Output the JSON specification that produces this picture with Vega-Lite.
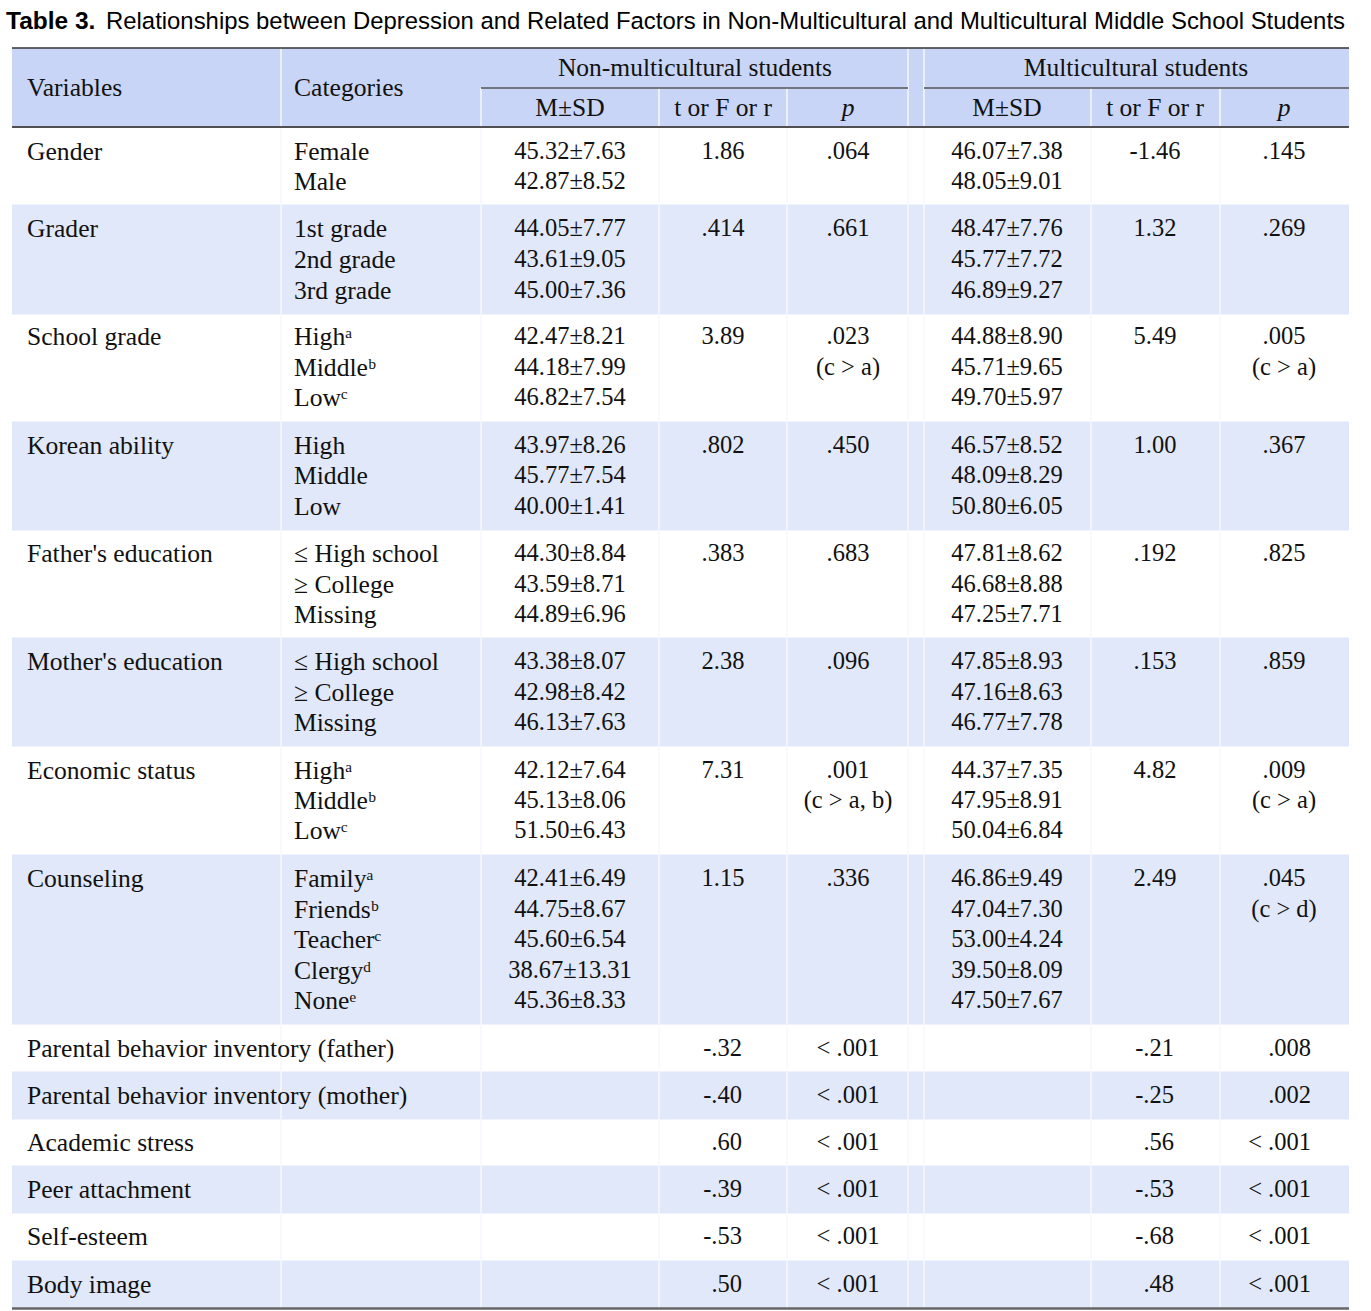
{
  "$schema": "https://vega.github.io/schema/vega-lite/v6.json",
  "width": 1371,
  "height": 1311,
  "padding": 0,
  "autosize": {"type": "none"},
  "background": "white",
  "config": {"view": {"stroke": null}, "axis": {"disable": true}},
  "data": {"values": [{}]},
  "datasets": {
    "groups": [
      {"g": 0, "first": 0, "last": 1}, {"g": 1, "first": 2, "last": 4}, {"g": 2, "first": 5, "last": 7},
      {"g": 3, "first": 8, "last": 10}, {"g": 4, "first": 11, "last": 13}, {"g": 5, "first": 14, "last": 16},
      {"g": 6, "first": 17, "last": 19}, {"g": 7, "first": 20, "last": 24}, {"g": 8, "first": 25, "last": 25},
      {"g": 9, "first": 26, "last": 26}, {"g": 10, "first": 27, "last": 27}, {"g": 11, "first": 28, "last": 28},
      {"g": 12, "first": 29, "last": 29}, {"g": 13, "first": 30, "last": 30}
    ],
    "cells": [
      {"line": -1.5, "col": 0, "text": "Variables"},
      {"line": -1.5, "col": 1, "text": "Categories"},
      {"line": -2, "col": 3, "text": "Non-multicultural students"},
      {"line": -2, "col": 6, "text": "Multicultural students"},
      {"line": -1, "col": 2, "text": "M±SD"}, {"line": -1, "col": 3, "text": "t or F or r"}, {"line": -1, "col": 4, "text": "p"},
      {"line": -1, "col": 5, "text": "M±SD"}, {"line": -1, "col": 6, "text": "t or F or r"}, {"line": -1, "col": 7, "text": "p"},

      {"line": 0, "col": 0, "text": "Gender"}, {"line": 0, "col": 1, "text": "Female"}, {"line": 0, "col": 2, "text": "45.32±7.63"},
      {"line": 0, "col": 3, "text": "1.86"}, {"line": 0, "col": 4, "text": ".064"}, {"line": 0, "col": 5, "text": "46.07±7.38"},
      {"line": 0, "col": 6, "text": "-1.46"}, {"line": 0, "col": 7, "text": ".145"},
      {"line": 1, "col": 1, "text": "Male"}, {"line": 1, "col": 2, "text": "42.87±8.52"}, {"line": 1, "col": 5, "text": "48.05±9.01"},

      {"line": 2, "col": 0, "text": "Grader"}, {"line": 2, "col": 1, "text": "1st grade"}, {"line": 2, "col": 2, "text": "44.05±7.77"},
      {"line": 2, "col": 3, "text": ".414"}, {"line": 2, "col": 4, "text": ".661"}, {"line": 2, "col": 5, "text": "48.47±7.76"},
      {"line": 2, "col": 6, "text": "1.32"}, {"line": 2, "col": 7, "text": ".269"},
      {"line": 3, "col": 1, "text": "2nd grade"}, {"line": 3, "col": 2, "text": "43.61±9.05"}, {"line": 3, "col": 5, "text": "45.77±7.72"},
      {"line": 4, "col": 1, "text": "3rd grade"}, {"line": 4, "col": 2, "text": "45.00±7.36"}, {"line": 4, "col": 5, "text": "46.89±9.27"},

      {"line": 5, "col": 0, "text": "School grade"}, {"line": 5, "col": 1, "text": "Highᵃ"}, {"line": 5, "col": 2, "text": "42.47±8.21"},
      {"line": 5, "col": 3, "text": "3.89"}, {"line": 5, "col": 4, "text": ".023"}, {"line": 5, "col": 5, "text": "44.88±8.90"},
      {"line": 5, "col": 6, "text": "5.49"}, {"line": 5, "col": 7, "text": ".005"},
      {"line": 6, "col": 1, "text": "Middleᵇ"}, {"line": 6, "col": 2, "text": "44.18±7.99"}, {"line": 6, "col": 4, "text": "(c > a)"},
      {"line": 6, "col": 5, "text": "45.71±9.65"}, {"line": 6, "col": 7, "text": "(c > a)"},
      {"line": 7, "col": 1, "text": "Lowᶜ"}, {"line": 7, "col": 2, "text": "46.82±7.54"}, {"line": 7, "col": 5, "text": "49.70±5.97"},

      {"line": 8, "col": 0, "text": "Korean ability"}, {"line": 8, "col": 1, "text": "High"}, {"line": 8, "col": 2, "text": "43.97±8.26"},
      {"line": 8, "col": 3, "text": ".802"}, {"line": 8, "col": 4, "text": ".450"}, {"line": 8, "col": 5, "text": "46.57±8.52"},
      {"line": 8, "col": 6, "text": "1.00"}, {"line": 8, "col": 7, "text": ".367"},
      {"line": 9, "col": 1, "text": "Middle"}, {"line": 9, "col": 2, "text": "45.77±7.54"}, {"line": 9, "col": 5, "text": "48.09±8.29"},
      {"line": 10, "col": 1, "text": "Low"}, {"line": 10, "col": 2, "text": "40.00±1.41"}, {"line": 10, "col": 5, "text": "50.80±6.05"},

      {"line": 11, "col": 0, "text": "Father's education"}, {"line": 11, "col": 1, "text": "≤ High school"}, {"line": 11, "col": 2, "text": "44.30±8.84"},
      {"line": 11, "col": 3, "text": ".383"}, {"line": 11, "col": 4, "text": ".683"}, {"line": 11, "col": 5, "text": "47.81±8.62"},
      {"line": 11, "col": 6, "text": ".192"}, {"line": 11, "col": 7, "text": ".825"},
      {"line": 12, "col": 1, "text": "≥ College"}, {"line": 12, "col": 2, "text": "43.59±8.71"}, {"line": 12, "col": 5, "text": "46.68±8.88"},
      {"line": 13, "col": 1, "text": "Missing"}, {"line": 13, "col": 2, "text": "44.89±6.96"}, {"line": 13, "col": 5, "text": "47.25±7.71"},

      {"line": 14, "col": 0, "text": "Mother's education"}, {"line": 14, "col": 1, "text": "≤ High school"}, {"line": 14, "col": 2, "text": "43.38±8.07"},
      {"line": 14, "col": 3, "text": "2.38"}, {"line": 14, "col": 4, "text": ".096"}, {"line": 14, "col": 5, "text": "47.85±8.93"},
      {"line": 14, "col": 6, "text": ".153"}, {"line": 14, "col": 7, "text": ".859"},
      {"line": 15, "col": 1, "text": "≥ College"}, {"line": 15, "col": 2, "text": "42.98±8.42"}, {"line": 15, "col": 5, "text": "47.16±8.63"},
      {"line": 16, "col": 1, "text": "Missing"}, {"line": 16, "col": 2, "text": "46.13±7.63"}, {"line": 16, "col": 5, "text": "46.77±7.78"},

      {"line": 17, "col": 0, "text": "Economic status"}, {"line": 17, "col": 1, "text": "Highᵃ"}, {"line": 17, "col": 2, "text": "42.12±7.64"},
      {"line": 17, "col": 3, "text": "7.31"}, {"line": 17, "col": 4, "text": ".001"}, {"line": 17, "col": 5, "text": "44.37±7.35"},
      {"line": 17, "col": 6, "text": "4.82"}, {"line": 17, "col": 7, "text": ".009"},
      {"line": 18, "col": 1, "text": "Middleᵇ"}, {"line": 18, "col": 2, "text": "45.13±8.06"}, {"line": 18, "col": 4, "text": "(c > a, b)"},
      {"line": 18, "col": 5, "text": "47.95±8.91"}, {"line": 18, "col": 7, "text": "(c > a)"},
      {"line": 19, "col": 1, "text": "Lowᶜ"}, {"line": 19, "col": 2, "text": "51.50±6.43"}, {"line": 19, "col": 5, "text": "50.04±6.84"},

      {"line": 20, "col": 0, "text": "Counseling"}, {"line": 20, "col": 1, "text": "Familyᵃ"}, {"line": 20, "col": 2, "text": "42.41±6.49"},
      {"line": 20, "col": 3, "text": "1.15"}, {"line": 20, "col": 4, "text": ".336"}, {"line": 20, "col": 5, "text": "46.86±9.49"},
      {"line": 20, "col": 6, "text": "2.49"}, {"line": 20, "col": 7, "text": ".045"},
      {"line": 21, "col": 1, "text": "Friendsᵇ"}, {"line": 21, "col": 2, "text": "44.75±8.67"}, {"line": 21, "col": 5, "text": "47.04±7.30"},
      {"line": 21, "col": 7, "text": "(c > d)"},
      {"line": 22, "col": 1, "text": "Teacherᶜ"}, {"line": 22, "col": 2, "text": "45.60±6.54"}, {"line": 22, "col": 5, "text": "53.00±4.24"},
      {"line": 23, "col": 1, "text": "Clergyᵈ"}, {"line": 23, "col": 2, "text": "38.67±13.31"}, {"line": 23, "col": 5, "text": "39.50±8.09"},
      {"line": 24, "col": 1, "text": "Noneᵉ"}, {"line": 24, "col": 2, "text": "45.36±8.33"}, {"line": 24, "col": 5, "text": "47.50±7.67"},

      {"line": 25, "col": 0, "text": "Parental behavior inventory (father)"}, {"line": 25, "col": 3, "text": "-.32"}, {"line": 25, "col": 4, "text": "< .001"},
      {"line": 25, "col": 6, "text": "-.21"}, {"line": 25, "col": 7, "text": ".008"},
      {"line": 26, "col": 0, "text": "Parental behavior inventory (mother)"}, {"line": 26, "col": 3, "text": "-.40"}, {"line": 26, "col": 4, "text": "< .001"},
      {"line": 26, "col": 6, "text": "-.25"}, {"line": 26, "col": 7, "text": ".002"},
      {"line": 27, "col": 0, "text": "Academic stress"}, {"line": 27, "col": 3, "text": ".60"}, {"line": 27, "col": 4, "text": "< .001"},
      {"line": 27, "col": 6, "text": ".56"}, {"line": 27, "col": 7, "text": "< .001"},
      {"line": 28, "col": 0, "text": "Peer attachment"}, {"line": 28, "col": 3, "text": "-.39"}, {"line": 28, "col": 4, "text": "< .001"},
      {"line": 28, "col": 6, "text": "-.53"}, {"line": 28, "col": 7, "text": "< .001"},
      {"line": 29, "col": 0, "text": "Self-esteem"}, {"line": 29, "col": 3, "text": "-.53"}, {"line": 29, "col": 4, "text": "< .001"},
      {"line": 29, "col": 6, "text": "-.68"}, {"line": 29, "col": 7, "text": "< .001"},
      {"line": 30, "col": 0, "text": "Body image"}, {"line": 30, "col": 3, "text": ".50"}, {"line": 30, "col": 4, "text": "< .001"},
      {"line": 30, "col": 6, "text": ".48"}, {"line": 30, "col": 7, "text": "< .001"}
    ]
  },
  "layer": [
    {
      "mark": {"type": "rect", "color": "#c9d5f6"},
      "encoding": {
        "x": {"datum": -0.0562, "type": "quantitative", "scale": {"type": "linear", "zero": false, "nice": false, "domain": [0,1,2,3,4,5,6,7], "range": [27,294,570,723,848,1007,1155,1284]}},
        "x2": {"datum": 7.5039},
        "y": {"datum": -2.435, "type": "quantitative", "scale": {"type": "linear", "zero": false, "nice": false, "domain": [-3,-2,-1,0,1,2,3,4,5,6,7,8,9,10,11,12,13,14,15,16,17,18,19,20,21,22,23,24,25,26,27,28,29,30], "range": [22,68,108,152,182,229,260,291,337,368,398,446,476,507,554,585,615,662,693,723,771,801,831,879,910,940,971,1001,1049,1096,1143,1190,1237,1285]}},
        "y2": {"datum": -0.568}
      }
    },
    {
      "data": {"name": "groups"},
      "transform": [{"filter": "datum.g % 2 == 1"}],
      "mark": {"type": "rect", "color": "#e1e8f9", "yOffset": -24.5, "y2Offset": 23.5},
      "encoding": {
        "x": {"datum": -0.0562, "type": "quantitative", "scale": {"type": "linear", "zero": false, "nice": false, "domain": [0,1,2,3,4,5,6,7], "range": [27,294,570,723,848,1007,1155,1284]}},
        "x2": {"datum": 7.5039},
        "y": {"field": "first", "type": "quantitative", "scale": {"type": "linear", "zero": false, "nice": false, "domain": [-3,-2,-1,0,1,2,3,4,5,6,7,8,9,10,11,12,13,14,15,16,17,18,19,20,21,22,23,24,25,26,27,28,29,30], "range": [22,68,108,152,182,229,260,291,337,368,398,446,476,507,554,585,615,662,693,723,771,801,831,879,910,940,971,1001,1049,1096,1143,1190,1237,1285]}},
        "y2": {"field": "last"}
      }
    },
    {
      "mark": {"type": "rule", "color": "#f6f8fe", "strokeWidth": 1.5},
      "encoding": {
        "x": {"datum": 0.9513, "type": "quantitative", "scale": {"type": "linear", "zero": false, "nice": false, "domain": [0,1,2,3,4,5,6,7], "range": [27,294,570,723,848,1007,1155,1284]}},
        "y": {"datum": -2.435, "type": "quantitative", "scale": {"type": "linear", "zero": false, "nice": false, "domain": [-3,-2,-1,0,1,2,3,4,5,6,7,8,9,10,11,12,13,14,15,16,17,18,19,20,21,22,23,24,25,26,27,28,29,30], "range": [22,68,108,152,182,229,260,291,337,368,398,446,476,507,554,585,615,662,693,723,771,801,831,879,910,940,971,1001,1049,1096,1143,1190,1237,1285]}},
        "y2": {"datum": 30.49}
      }
    },
    {
      "mark": {"type": "rule", "color": "#f6f8fe", "strokeWidth": 1.5},
      "encoding": {
        "x": {"datum": 4.3774, "type": "quantitative", "scale": {"type": "linear", "zero": false, "nice": false, "domain": [0,1,2,3,4,5,6,7], "range": [27,294,570,723,848,1007,1155,1284]}},
        "y": {"datum": -2.435, "type": "quantitative", "scale": {"type": "linear", "zero": false, "nice": false, "domain": [-3,-2,-1,0,1,2,3,4,5,6,7,8,9,10,11,12,13,14,15,16,17,18,19,20,21,22,23,24,25,26,27,28,29,30], "range": [22,68,108,152,182,229,260,291,337,368,398,446,476,507,554,585,615,662,693,723,771,801,831,879,910,940,971,1001,1049,1096,1143,1190,1237,1285]}},
        "y2": {"datum": 30.49}
      }
    },
    {
      "mark": {"type": "rule", "color": "#f6f8fe", "strokeWidth": 1.5},
      "encoding": {
        "x": {"datum": 4.478, "type": "quantitative", "scale": {"type": "linear", "zero": false, "nice": false, "domain": [0,1,2,3,4,5,6,7], "range": [27,294,570,723,848,1007,1155,1284]}},
        "y": {"datum": -2.435, "type": "quantitative", "scale": {"type": "linear", "zero": false, "nice": false, "domain": [-3,-2,-1,0,1,2,3,4,5,6,7,8,9,10,11,12,13,14,15,16,17,18,19,20,21,22,23,24,25,26,27,28,29,30], "range": [22,68,108,152,182,229,260,291,337,368,398,446,476,507,554,585,615,662,693,723,771,801,831,879,910,940,971,1001,1049,1096,1143,1190,1237,1285]}},
        "y2": {"datum": 30.49}
      }
    },
    {
      "mark": {"type": "rule", "color": "#f6f8fe", "strokeWidth": 1.5},
      "encoding": {
        "x": {"datum": 1.6775, "type": "quantitative", "scale": {"type": "linear", "zero": false, "nice": false, "domain": [0,1,2,3,4,5,6,7], "range": [27,294,570,723,848,1007,1155,1284]}},
        "y": {"datum": -1.5, "type": "quantitative", "scale": {"type": "linear", "zero": false, "nice": false, "domain": [-3,-2,-1,0,1,2,3,4,5,6,7,8,9,10,11,12,13,14,15,16,17,18,19,20,21,22,23,24,25,26,27,28,29,30], "range": [22,68,108,152,182,229,260,291,337,368,398,446,476,507,554,585,615,662,693,723,771,801,831,879,910,940,971,1001,1049,1096,1143,1190,1237,1285]}},
        "y2": {"datum": 30.49}
      }
    },
    {
      "mark": {"type": "rule", "color": "#f6f8fe", "strokeWidth": 1.5},
      "encoding": {
        "x": {"datum": 2.5817, "type": "quantitative", "scale": {"type": "linear", "zero": false, "nice": false, "domain": [0,1,2,3,4,5,6,7], "range": [27,294,570,723,848,1007,1155,1284]}},
        "y": {"datum": -1.5, "type": "quantitative", "scale": {"type": "linear", "zero": false, "nice": false, "domain": [-3,-2,-1,0,1,2,3,4,5,6,7,8,9,10,11,12,13,14,15,16,17,18,19,20,21,22,23,24,25,26,27,28,29,30], "range": [22,68,108,152,182,229,260,291,337,368,398,446,476,507,554,585,615,662,693,723,771,801,831,879,910,940,971,1001,1049,1096,1143,1190,1237,1285]}},
        "y2": {"datum": 30.49}
      }
    },
    {
      "mark": {"type": "rule", "color": "#f6f8fe", "strokeWidth": 1.5},
      "encoding": {
        "x": {"datum": 3.512, "type": "quantitative", "scale": {"type": "linear", "zero": false, "nice": false, "domain": [0,1,2,3,4,5,6,7], "range": [27,294,570,723,848,1007,1155,1284]}},
        "y": {"datum": -1.5, "type": "quantitative", "scale": {"type": "linear", "zero": false, "nice": false, "domain": [-3,-2,-1,0,1,2,3,4,5,6,7,8,9,10,11,12,13,14,15,16,17,18,19,20,21,22,23,24,25,26,27,28,29,30], "range": [22,68,108,152,182,229,260,291,337,368,398,446,476,507,554,585,615,662,693,723,771,801,831,879,910,940,971,1001,1049,1096,1143,1190,1237,1285]}},
        "y2": {"datum": 30.49}
      }
    },
    {
      "mark": {"type": "rule", "color": "#f6f8fe", "strokeWidth": 1.5},
      "encoding": {
        "x": {"datum": 5.5676, "type": "quantitative", "scale": {"type": "linear", "zero": false, "nice": false, "domain": [0,1,2,3,4,5,6,7], "range": [27,294,570,723,848,1007,1155,1284]}},
        "y": {"datum": -1.5, "type": "quantitative", "scale": {"type": "linear", "zero": false, "nice": false, "domain": [-3,-2,-1,0,1,2,3,4,5,6,7,8,9,10,11,12,13,14,15,16,17,18,19,20,21,22,23,24,25,26,27,28,29,30], "range": [22,68,108,152,182,229,260,291,337,368,398,446,476,507,554,585,615,662,693,723,771,801,831,879,910,940,971,1001,1049,1096,1143,1190,1237,1285]}},
        "y2": {"datum": 30.49}
      }
    },
    {
      "mark": {"type": "rule", "color": "#f6f8fe", "strokeWidth": 1.5},
      "encoding": {
        "x": {"datum": 6.5039, "type": "quantitative", "scale": {"type": "linear", "zero": false, "nice": false, "domain": [0,1,2,3,4,5,6,7], "range": [27,294,570,723,848,1007,1155,1284]}},
        "y": {"datum": -1.5, "type": "quantitative", "scale": {"type": "linear", "zero": false, "nice": false, "domain": [-3,-2,-1,0,1,2,3,4,5,6,7,8,9,10,11,12,13,14,15,16,17,18,19,20,21,22,23,24,25,26,27,28,29,30], "range": [22,68,108,152,182,229,260,291,337,368,398,446,476,507,554,585,615,662,693,723,771,801,831,879,910,940,971,1001,1049,1096,1143,1190,1237,1285]}},
        "y2": {"datum": 30.49}
      }
    },
    {
      "mark": {"type": "rule", "color": "#333333", "strokeWidth": 1.5},
      "encoding": {
        "x": {"datum": -0.0562, "type": "quantitative", "scale": {"type": "linear", "zero": false, "nice": false, "domain": [0,1,2,3,4,5,6,7], "range": [27,294,570,723,848,1007,1155,1284]}},
        "x2": {"datum": 7.5039},
        "y": {"datum": -2.435, "type": "quantitative", "scale": {"type": "linear", "zero": false, "nice": false, "domain": [-3,-2,-1,0,1,2,3,4,5,6,7,8,9,10,11,12,13,14,15,16,17,18,19,20,21,22,23,24,25,26,27,28,29,30], "range": [22,68,108,152,182,229,260,291,337,368,398,446,476,507,554,585,615,662,693,723,771,801,831,879,910,940,971,1001,1049,1096,1143,1190,1237,1285]}}
      }
    },
    {
      "mark": {"type": "rule", "color": "#505050", "strokeWidth": 2},
      "encoding": {
        "x": {"datum": -0.0562, "type": "quantitative", "scale": {"type": "linear", "zero": false, "nice": false, "domain": [0,1,2,3,4,5,6,7], "range": [27,294,570,723,848,1007,1155,1284]}},
        "x2": {"datum": 7.5039},
        "y": {"datum": -0.568, "type": "quantitative", "scale": {"type": "linear", "zero": false, "nice": false, "domain": [-3,-2,-1,0,1,2,3,4,5,6,7,8,9,10,11,12,13,14,15,16,17,18,19,20,21,22,23,24,25,26,27,28,29,30], "range": [22,68,108,152,182,229,260,291,337,368,398,446,476,507,554,585,615,662,693,723,771,801,831,879,910,940,971,1001,1049,1096,1143,1190,1237,1285]}}
      }
    },
    {
      "mark": {"type": "rule", "color": "#666666", "strokeWidth": 2.5},
      "encoding": {
        "x": {"datum": -0.0562, "type": "quantitative", "scale": {"type": "linear", "zero": false, "nice": false, "domain": [0,1,2,3,4,5,6,7], "range": [27,294,570,723,848,1007,1155,1284]}},
        "x2": {"datum": 7.5039},
        "y": {"datum": 30.49, "type": "quantitative", "scale": {"type": "linear", "zero": false, "nice": false, "domain": [-3,-2,-1,0,1,2,3,4,5,6,7,8,9,10,11,12,13,14,15,16,17,18,19,20,21,22,23,24,25,26,27,28,29,30], "range": [22,68,108,152,182,229,260,291,337,368,398,446,476,507,554,585,615,662,693,723,771,801,831,879,910,940,971,1001,1049,1096,1143,1190,1237,1285]}}
      }
    },
    {
      "mark": {"type": "rule", "color": "#555555", "strokeWidth": 1.5},
      "encoding": {
        "x": {"datum": 1.6775, "type": "quantitative", "scale": {"type": "linear", "zero": false, "nice": false, "domain": [0,1,2,3,4,5,6,7], "range": [27,294,570,723,848,1007,1155,1284]}},
        "x2": {"datum": 4.3774},
        "y": {"datum": -1.5, "type": "quantitative", "scale": {"type": "linear", "zero": false, "nice": false, "domain": [-3,-2,-1,0,1,2,3,4,5,6,7,8,9,10,11,12,13,14,15,16,17,18,19,20,21,22,23,24,25,26,27,28,29,30], "range": [22,68,108,152,182,229,260,291,337,368,398,446,476,507,554,585,615,662,693,723,771,801,831,879,910,940,971,1001,1049,1096,1143,1190,1237,1285]}}
      }
    },
    {
      "mark": {"type": "rule", "color": "#555555", "strokeWidth": 1.5},
      "encoding": {
        "x": {"datum": 4.478, "type": "quantitative", "scale": {"type": "linear", "zero": false, "nice": false, "domain": [0,1,2,3,4,5,6,7], "range": [27,294,570,723,848,1007,1155,1284]}},
        "x2": {"datum": 7.5039},
        "y": {"datum": -1.5, "type": "quantitative", "scale": {"type": "linear", "zero": false, "nice": false, "domain": [-3,-2,-1,0,1,2,3,4,5,6,7,8,9,10,11,12,13,14,15,16,17,18,19,20,21,22,23,24,25,26,27,28,29,30], "range": [22,68,108,152,182,229,260,291,337,368,398,446,476,507,554,585,615,662,693,723,771,801,831,879,910,940,971,1001,1049,1096,1143,1190,1237,1285]}}
      }
    },
    {
      "mark": {"type": "text", "text": "Table 3.", "font": "Liberation Sans", "fontWeight": "bold", "fontSize": 24.5, "align": "left", "baseline": "middle", "color": "#000000"},
      "encoding": {
        "x": {"datum": -0.0787, "type": "quantitative", "scale": {"type": "linear", "zero": false, "nice": false, "domain": [0,1,2,3,4,5,6,7], "range": [27,294,570,723,848,1007,1155,1284]}},
        "y": {"datum": -3, "type": "quantitative", "scale": {"type": "linear", "zero": false, "nice": false, "domain": [-3,-2,-1,0,1,2,3,4,5,6,7,8,9,10,11,12,13,14,15,16,17,18,19,20,21,22,23,24,25,26,27,28,29,30], "range": [22,68,108,152,182,229,260,291,337,368,398,446,476,507,554,585,615,662,693,723,771,801,831,879,910,940,971,1001,1049,1096,1143,1190,1237,1285]}}
      }
    },
    {
      "mark": {"type": "text", "text": "Relationships between Depression and Related Factors in Non-Multicultural and Multicultural Middle School Students", "font": "Liberation Sans", "fontSize": 23.9, "align": "left", "baseline": "middle", "color": "#000000"},
      "encoding": {
        "x": {"datum": 0.2959, "type": "quantitative", "scale": {"type": "linear", "zero": false, "nice": false, "domain": [0,1,2,3,4,5,6,7], "range": [27,294,570,723,848,1007,1155,1284]}},
        "y": {"datum": -3, "type": "quantitative", "scale": {"type": "linear", "zero": false, "nice": false, "domain": [-3,-2,-1,0,1,2,3,4,5,6,7,8,9,10,11,12,13,14,15,16,17,18,19,20,21,22,23,24,25,26,27,28,29,30], "range": [22,68,108,152,182,229,260,291,337,368,398,446,476,507,554,585,615,662,693,723,771,801,831,879,910,940,971,1001,1049,1096,1143,1190,1237,1285]}}
      }
    },
    {
      "data": {"name": "cells"},
      "transform": [{"filter": "datum.col <= 1"}],
      "mark": {"type": "text", "font": "Liberation Serif", "fontSize": 25.6, "align": "left", "baseline": "middle", "color": "#111111"},
      "encoding": {
        "x": {"field": "col", "type": "quantitative", "scale": {"type": "linear", "zero": false, "nice": false, "domain": [0,1,2,3,4,5,6,7], "range": [27,294,570,723,848,1007,1155,1284]}},
        "y": {"field": "line", "type": "quantitative", "scale": {"type": "linear", "zero": false, "nice": false, "domain": [-3,-2,-1,0,1,2,3,4,5,6,7,8,9,10,11,12,13,14,15,16,17,18,19,20,21,22,23,24,25,26,27,28,29,30], "range": [22,68,108,152,182,229,260,291,337,368,398,446,476,507,554,585,615,662,693,723,771,801,831,879,910,940,971,1001,1049,1096,1143,1190,1237,1285]}},
        "text": {"field": "text"}
      }
    },
    {
      "data": {"name": "cells"},
      "transform": [{"filter": "datum.col >= 2 && datum.line >= 0 && !(datum.line >= 25 && (datum.col == 3 || datum.col == 6 || datum.col == 7))"}],
      "mark": {"type": "text", "font": "Liberation Serif", "fontSize": 24.5, "align": "center", "baseline": "middle", "color": "#111111"},
      "encoding": {
        "x": {"field": "col", "type": "quantitative", "scale": {"type": "linear", "zero": false, "nice": false, "domain": [0,1,2,3,4,5,6,7], "range": [27,294,570,723,848,1007,1155,1284]}},
        "y": {"field": "line", "type": "quantitative", "scale": {"type": "linear", "zero": false, "nice": false, "domain": [-3,-2,-1,0,1,2,3,4,5,6,7,8,9,10,11,12,13,14,15,16,17,18,19,20,21,22,23,24,25,26,27,28,29,30], "range": [22,68,108,152,182,229,260,291,337,368,398,446,476,507,554,585,615,662,693,723,771,801,831,879,910,940,971,1001,1049,1096,1143,1190,1237,1285]}},
        "text": {"field": "text"}
      }
    },
    {
      "data": {"name": "cells"},
      "transform": [{"filter": "datum.line >= 25 && (datum.col == 3 || datum.col == 6)"}],
      "mark": {"type": "text", "font": "Liberation Serif", "fontSize": 24.5, "align": "right", "dx": 19, "baseline": "middle", "color": "#111111"},
      "encoding": {
        "x": {"field": "col", "type": "quantitative", "scale": {"type": "linear", "zero": false, "nice": false, "domain": [0,1,2,3,4,5,6,7], "range": [27,294,570,723,848,1007,1155,1284]}},
        "y": {"field": "line", "type": "quantitative", "scale": {"type": "linear", "zero": false, "nice": false, "domain": [-3,-2,-1,0,1,2,3,4,5,6,7,8,9,10,11,12,13,14,15,16,17,18,19,20,21,22,23,24,25,26,27,28,29,30], "range": [22,68,108,152,182,229,260,291,337,368,398,446,476,507,554,585,615,662,693,723,771,801,831,879,910,940,971,1001,1049,1096,1143,1190,1237,1285]}},
        "text": {"field": "text"}
      }
    },
    {
      "data": {"name": "cells"},
      "transform": [{"filter": "datum.line >= 25 && datum.col == 7"}],
      "mark": {"type": "text", "font": "Liberation Serif", "fontSize": 24.5, "align": "right", "dx": 27, "baseline": "middle", "color": "#111111"},
      "encoding": {
        "x": {"field": "col", "type": "quantitative", "scale": {"type": "linear", "zero": false, "nice": false, "domain": [0,1,2,3,4,5,6,7], "range": [27,294,570,723,848,1007,1155,1284]}},
        "y": {"field": "line", "type": "quantitative", "scale": {"type": "linear", "zero": false, "nice": false, "domain": [-3,-2,-1,0,1,2,3,4,5,6,7,8,9,10,11,12,13,14,15,16,17,18,19,20,21,22,23,24,25,26,27,28,29,30], "range": [22,68,108,152,182,229,260,291,337,368,398,446,476,507,554,585,615,662,693,723,771,801,831,879,910,940,971,1001,1049,1096,1143,1190,1237,1285]}},
        "text": {"field": "text"}
      }
    },
    {
      "data": {"name": "cells"},
      "transform": [{"filter": "datum.line == -1 && datum.text != 'p'"}],
      "mark": {"type": "text", "font": "Liberation Serif", "fontSize": 25.5, "align": "center", "baseline": "middle", "color": "#111111"},
      "encoding": {
        "x": {"field": "col", "type": "quantitative", "scale": {"type": "linear", "zero": false, "nice": false, "domain": [0,1,2,3,4,5,6,7], "range": [27,294,570,723,848,1007,1155,1284]}},
        "y": {"field": "line", "type": "quantitative", "scale": {"type": "linear", "zero": false, "nice": false, "domain": [-3,-2,-1,0,1,2,3,4,5,6,7,8,9,10,11,12,13,14,15,16,17,18,19,20,21,22,23,24,25,26,27,28,29,30], "range": [22,68,108,152,182,229,260,291,337,368,398,446,476,507,554,585,615,662,693,723,771,801,831,879,910,940,971,1001,1049,1096,1143,1190,1237,1285]}},
        "text": {"field": "text"}
      }
    },
    {
      "data": {"name": "cells"},
      "transform": [{"filter": "datum.line == -1 && datum.text == 'p'"}],
      "mark": {"type": "text", "font": "Liberation Serif", "fontSize": 25.5, "fontStyle": "italic", "align": "center", "baseline": "middle", "color": "#111111"},
      "encoding": {
        "x": {"field": "col", "type": "quantitative", "scale": {"type": "linear", "zero": false, "nice": false, "domain": [0,1,2,3,4,5,6,7], "range": [27,294,570,723,848,1007,1155,1284]}},
        "y": {"field": "line", "type": "quantitative", "scale": {"type": "linear", "zero": false, "nice": false, "domain": [-3,-2,-1,0,1,2,3,4,5,6,7,8,9,10,11,12,13,14,15,16,17,18,19,20,21,22,23,24,25,26,27,28,29,30], "range": [22,68,108,152,182,229,260,291,337,368,398,446,476,507,554,585,615,662,693,723,771,801,831,879,910,940,971,1001,1049,1096,1143,1190,1237,1285]}},
        "text": {"field": "text"}
      }
    },
    {
      "data": {"name": "cells"},
      "transform": [{"filter": "datum.line == -2 && datum.col == 3"}],
      "mark": {"type": "text", "font": "Liberation Serif", "fontSize": 25.5, "align": "center", "dx": -28, "baseline": "middle", "color": "#111111"},
      "encoding": {
        "x": {"field": "col", "type": "quantitative", "scale": {"type": "linear", "zero": false, "nice": false, "domain": [0,1,2,3,4,5,6,7], "range": [27,294,570,723,848,1007,1155,1284]}},
        "y": {"field": "line", "type": "quantitative", "scale": {"type": "linear", "zero": false, "nice": false, "domain": [-3,-2,-1,0,1,2,3,4,5,6,7,8,9,10,11,12,13,14,15,16,17,18,19,20,21,22,23,24,25,26,27,28,29,30], "range": [22,68,108,152,182,229,260,291,337,368,398,446,476,507,554,585,615,662,693,723,771,801,831,879,910,940,971,1001,1049,1096,1143,1190,1237,1285]}},
        "text": {"field": "text"}
      }
    },
    {
      "data": {"name": "cells"},
      "transform": [{"filter": "datum.line == -2 && datum.col == 6"}],
      "mark": {"type": "text", "font": "Liberation Serif", "fontSize": 25.5, "align": "center", "dx": -19, "baseline": "middle", "color": "#111111"},
      "encoding": {
        "x": {"field": "col", "type": "quantitative", "scale": {"type": "linear", "zero": false, "nice": false, "domain": [0,1,2,3,4,5,6,7], "range": [27,294,570,723,848,1007,1155,1284]}},
        "y": {"field": "line", "type": "quantitative", "scale": {"type": "linear", "zero": false, "nice": false, "domain": [-3,-2,-1,0,1,2,3,4,5,6,7,8,9,10,11,12,13,14,15,16,17,18,19,20,21,22,23,24,25,26,27,28,29,30], "range": [22,68,108,152,182,229,260,291,337,368,398,446,476,507,554,585,615,662,693,723,771,801,831,879,910,940,971,1001,1049,1096,1143,1190,1237,1285]}},
        "text": {"field": "text"}
      }
    }
  ]
}
